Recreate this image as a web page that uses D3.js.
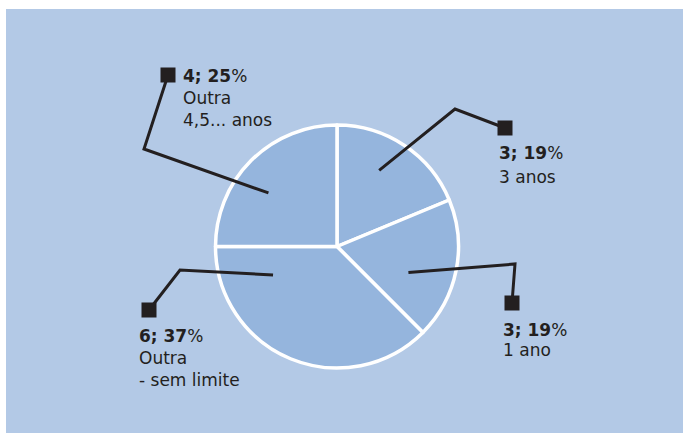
<!DOCTYPE html>
<html>
<head>
<meta charset="utf-8">
<script src="https://cdn.jsdelivr.net/npm/d3@7"></script>
<style>
  html, body { margin: 0; padding: 0; background: #ffffff; }
  svg { display: block; }
  text { font-family: "DejaVu Sans", sans-serif; fill: #231f20; }
</style>
</head>
<body>
<svg id="chart" width="683" height="433"></svg>
<script>
// Slice data, clockwise from 12 o'clock
const categories = ["3 anos", "1 ano", "Outra - sem limite", "Outra 4,5... anos"];
const values = [3, 3, 6, 4];
const percents = ["19%", "19%", "37%", "25%"];
// Text lines under each bold value label
const labelLines = [["3 anos"], ["1 ano"], ["Outra", "- sem limite"], ["Outra", "4,5... anos"]];

// Callout geometry: anchor inside slice (angle in degrees from north, radius in px),
// elbow point, marker square centre, text origin and line spacing
const callouts = [
  { anchorAng: 29, anchorR: 87, elbow: [455, 109], marker: [505, 128], text: [499, 159], gap: 24 },
  { anchorAng: 110, anchorR: 76, elbow: [515, 264], marker: [512, 303], text: [503, 336], gap: 20 },
  { anchorAng: 246, anchorR: 70, elbow: [180, 270], marker: [149, 310], text: [139, 342], gap: 22 },
  { anchorAng: 308, anchorR: 87, elbow: [144, 149], marker: [168, 75], text: [183, 82], gap: 22 }
];

const W = 683, H = 433;
const cx = 337, cy = 246.5, R = 121.5;

const svg = d3.select("#chart");

// Panel background
svg.append("rect")
  .attr("x", 6).attr("y", 9)
  .attr("width", W - 6).attr("height", H - 9)
  .attr("fill", "#b3c9e6");

const pie = d3.pie().sort(null).value(d => d).startAngle(0).endAngle(2 * Math.PI);
const arc = d3.arc().innerRadius(0).outerRadius(R);

const g = svg.append("g").attr("transform", `translate(${cx},${cy})`);
g.selectAll("path.slice")
  .data(pie(values))
  .join("path")
  .attr("class", "slice")
  .attr("d", arc)
  .attr("fill", "#95b5dd")
  .attr("stroke", "#ffffff")
  .attr("stroke-width", 3.5)
  .attr("stroke-linejoin", "round");

// Callouts
const line = d3.line();
callouts.forEach((c, i) => {
  const a = c.anchorAng * Math.PI / 180;
  const ax = cx + c.anchorR * Math.sin(a);
  const ay = cy - c.anchorR * Math.cos(a);
  svg.append("path")
    .attr("d", line([[ax, ay], c.elbow, c.marker]))
    .attr("fill", "none")
    .attr("stroke", "#231f20")
    .attr("stroke-width", 3);
  svg.append("rect")
    .attr("x", c.marker[0] - 7.5).attr("y", c.marker[1] - 7.5)
    .attr("width", 15).attr("height", 15)
    .attr("fill", "#231f20");

  const t = svg.append("text")
    .attr("x", c.text[0]).attr("y", c.text[1])
    .attr("font-size", 17);
  t.append("tspan")
    .attr("font-weight", "bold")
    .text(values[i] + "; " + percents[i].replace("%", ""));
  t.append("tspan").text("%");
  labelLines[i].forEach((s, k) => {
    svg.append("text")
      .attr("x", c.text[0]).attr("y", c.text[1] + c.gap * (k + 1))
      .attr("font-size", 17)
      .text(s);
  });
});
</script>
</body>
</html>
